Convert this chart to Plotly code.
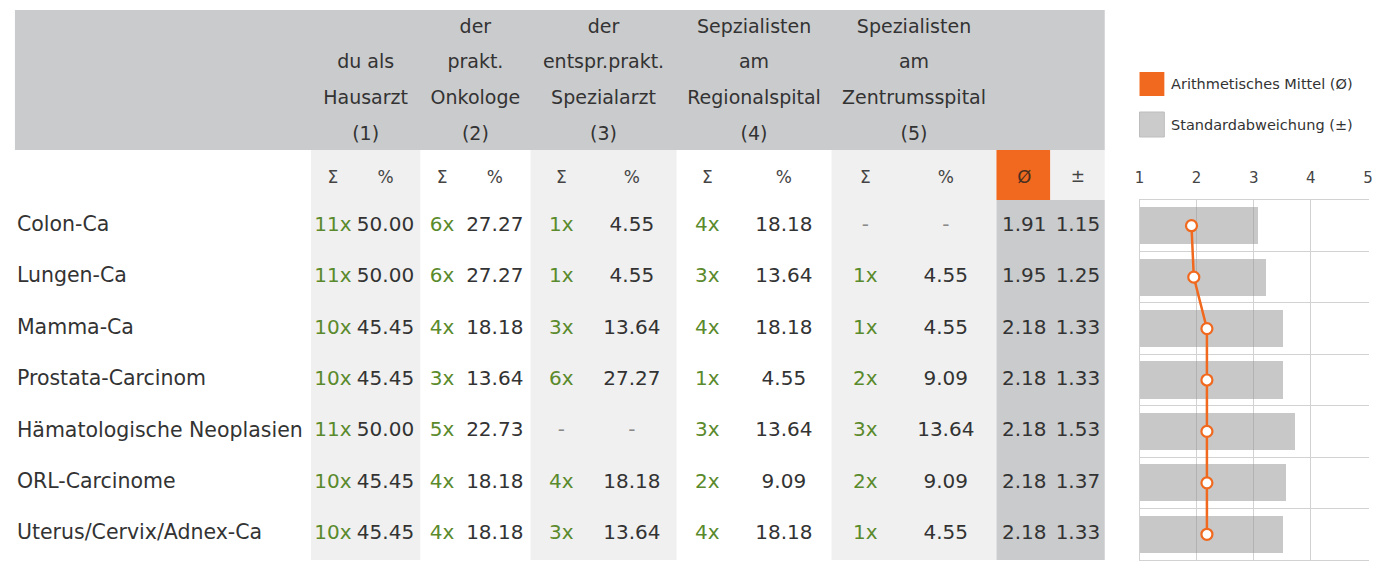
import plotly.graph_objects as go

# ---------------- data ----------------
categories = ["Colon-Ca", "Lungen-Ca", "Mamma-Ca", "Prostata-Carcinom",
              "Hämatologische Neoplasien", "ORL-Carcinome", "Uterus/Cervix/Adnex-Ca"]
group_headers = [["du als", "Hausarzt", "(1)"],
                 ["der", "prakt.", "Onkologe", "(2)"],
                 ["der", "entspr.prakt.", "Spezialarzt", "(3)"],
                 ["Sepzialisten", "am", "Regionalspital", "(4)"],
                 ["Spezialisten", "am", "Zentrumsspital", "(5)"]]
counts_1 = [11, 11, 10, 10, 11, 10, 10]
pct_1 = [50.00, 50.00, 45.45, 45.45, 50.00, 45.45, 45.45]
counts_2 = [6, 6, 4, 3, 5, 4, 4]
pct_2 = [27.27, 27.27, 18.18, 13.64, 22.73, 18.18, 18.18]
counts_3 = [1, 1, 3, 6, None, 4, 3]
pct_3 = [4.55, 4.55, 13.64, 27.27, None, 18.18, 13.64]
counts_4 = [4, 3, 4, 1, 3, 2, 4]
pct_4 = [18.18, 13.64, 18.18, 4.55, 13.64, 9.09, 18.18]
counts_5 = [None, 1, 1, 2, 3, 2, 1]
pct_5 = [None, 4.55, 4.55, 9.09, 13.64, 9.09, 4.55]
mean = [1.91, 1.95, 2.18, 2.18, 2.18, 2.18, 2.18]
sd = [1.15, 1.25, 1.33, 1.33, 1.53, 1.37, 1.33]
scale_ticks = [1, 2, 3, 4, 5]
legend_labels = ["Arithmetisches Mittel (Ø)", "Standardabweichung (±)"]

counts = [counts_1, counts_2, counts_3, counts_4, counts_5]
pcts = [pct_1, pct_2, pct_3, pct_4, pct_5]

# ---------------- layout constants (pixels) ----------------
W, H = 1373, 563
ROW_TOP, ROW_BOT = 200, 560
ROW_H = (ROW_BOT - ROW_TOP) / len(categories)
row_px = [ROW_TOP + (i + 0.5) * ROW_H for i in range(len(categories))]
LABEL_X = 12
group_edges = [308, 418, 529, 676, 832, 998]
sub_x = [(330, 383), (440, 493), (560, 631), (707, 784), (866, 947)]
MEAN_X, SD_X = 1026, 1080
STAT_EDGES = (998, 1052, 1107)
HEAD = dict(x0=10, x1=1107, y0=10, y1=150)
SUBHEAD_Y = 179
HEAD_BOTTOM_LINE, HEAD_STEP = 135, 35.7
CHART_X0, PX_PER_UNIT = 1142, 57.5
x_max = scale_ticks[0] + (W - CHART_X0) / PX_PER_UNIT

FONT = "DejaVu Sans"
DARK = "#333333"
GREEN = "#5a8a2b"
DASH = "#8a8a8a"
ORANGE = "#f0691e"
HEADGRAY = "#cacbcd"
LIGHT = "#f0f0f0"
GRID = "#d2d2d2"

fig = go.Figure()

def text_trace(xs, ys, texts, size, colors, pos="middle center"):
    fig.add_trace(go.Scatter(x=xs, y=ys, text=texts, mode="text",
                             textposition=pos,
                             textfont=dict(family=FONT, size=size, color=colors),
                             showlegend=False, hoverinfo="skip", cliponaxis=False,
                             xaxis="x", yaxis="y"))

# row labels
text_trace([LABEL_X] * len(categories), row_px, categories, 20.5, DARK, "middle right")

# group header lines (bottom aligned)
hx, hy, ht = [], [], []
for g, lines in enumerate(group_headers):
    cx = (group_edges[g] + group_edges[g + 1]) / 2
    n = len(lines)
    for k, line in enumerate(lines):
        hx.append(cx)
        hy.append(HEAD_BOTTOM_LINE - (n - 1 - k) * HEAD_STEP)
        ht.append(line)
text_trace(hx, hy, ht, 19, DARK)

# sub header
sx, st = [], []
for a, b in sub_x:
    sx += [a, b]
    st += ["Σ", "%"]
text_trace(sx, [SUBHEAD_Y] * len(sx), st, 17, "#444444")
text_trace([MEAN_X], [SUBHEAD_Y - 1], ["Ø"], 18, "#4a3020")
text_trace([SD_X], [SUBHEAD_Y - 1], ["±"], 17, "#444444")

# body values
for g in range(5):
    ct = [f"{v}x" if v is not None else "-" for v in counts[g]]
    cc = [GREEN if v is not None else DASH for v in counts[g]]
    text_trace([sub_x[g][0]] * len(ct), row_px, ct, 20, cc)
    pt = [f"{v:.2f}" if v is not None else "-" for v in pcts[g]]
    pc = [DARK if v is not None else DASH for v in pcts[g]]
    text_trace([sub_x[g][1]] * len(pt), row_px, pt, 20, pc)

text_trace([MEAN_X] * len(mean), row_px, [f"{v:.2f}" for v in mean], 20, DARK)
text_trace([SD_X] * len(sd), row_px, [f"{v:.2f}" for v in sd], 20, DARK)

# ---------------- chart ----------------
fig.add_trace(go.Bar(
    orientation="h", y=list(range(len(categories))),
    x=[2 * s for s in sd], base=[m - s for m, s in zip(mean, sd)],
    width=0.72, marker=dict(color="rgba(150,150,152,0.52)", line=dict(width=0)),
    showlegend=False, hoverinfo="skip", xaxis="x2", yaxis="y2"))
fig.add_trace(go.Scatter(
    x=mean, y=list(range(len(categories))), mode="lines+markers",
    line=dict(color=ORANGE, width=2.5),
    marker=dict(size=11, color="white", line=dict(color=ORANGE, width=2.2)),
    showlegend=False, hoverinfo="skip", cliponaxis=False, xaxis="x2", yaxis="y2"))

# ---------------- shapes ----------------
shapes = []
def rect(x0, x1, y0, y1, fill, line_color=None):
    shapes.append(dict(type="rect", xref="x", yref="y", x0=x0, x1=x1, y0=y0, y1=y1,
                       fillcolor=fill, layer="below",
                       line=dict(width=1 if line_color else 0, color=line_color or fill)))

rect(HEAD["x0"], HEAD["x1"], HEAD["y0"], HEAD["y1"], HEADGRAY)
for g in (0, 2, 4):
    rect(group_edges[g], group_edges[g + 1], HEAD["y1"], ROW_BOT, LIGHT)
rect(STAT_EDGES[0], STAT_EDGES[2], ROW_TOP, ROW_BOT, HEADGRAY)
rect(STAT_EDGES[1], STAT_EDGES[2], HEAD["y1"], ROW_TOP, LIGHT)
rect(STAT_EDGES[0], STAT_EDGES[1], HEAD["y1"], ROW_TOP, ORANGE)

# legend swatches
rect(1142, 1167, 72, 96, ORANGE)
rect(1142, 1167, 112, 137, "#cbcbcb", "#bdbdbd")

annotations = [
    dict(x=1172, y=84, xref="x", yref="y", text=legend_labels[0], showarrow=False,
         xanchor="left", yanchor="middle", font=dict(family=FONT, size=14.5, color=DARK)),
    dict(x=1172, y=125, xref="x", yref="y", text=legend_labels[1], showarrow=False,
         xanchor="left", yanchor="middle", font=dict(family=FONT, size=14.5, color=DARK)),
]

fig.update_layout(
    width=W, height=H, margin=dict(l=0, r=0, t=0, b=0),
    paper_bgcolor="white", plot_bgcolor="rgba(0,0,0,0)",
    hovermode=False, showlegend=False, bargap=0,
    shapes=shapes, annotations=annotations,
    xaxis=dict(domain=[0, 1], range=[0, W], visible=False, fixedrange=True),
    yaxis=dict(domain=[0, 1], range=[H, 0], visible=False, fixedrange=True),
    xaxis2=dict(domain=[CHART_X0 / W, 1], range=[scale_ticks[0], x_max],
                anchor="y2", side="top", tickvals=scale_ticks, ticks="outside", ticklen=10,
                tickcolor="rgba(0,0,0,0)", tickfont=dict(family=FONT, size=15, color="#444444"),
                ticklabeloverflow="allow",
                showgrid=True, gridcolor=GRID, gridwidth=1, zeroline=False,
                showline=True, mirror=True, linecolor=GRID, linewidth=1,
                fixedrange=True),
    yaxis2=dict(domain=[1 - ROW_BOT / H, 1 - ROW_TOP / H], range=[len(categories) - 0.5, -0.5],
                anchor="x2", tickvals=[i - 0.5 for i in range(len(categories) + 1)],
                showticklabels=False, ticks="", showgrid=True, gridcolor=GRID, gridwidth=1,
                zeroline=False, showline=True, linecolor=GRID, linewidth=1, fixedrange=True),
)

fig.write_html("out.html", config={"displayModeBar": False},
               post_script="document.body.style.margin='0';document.body.style.overflow='hidden';")
